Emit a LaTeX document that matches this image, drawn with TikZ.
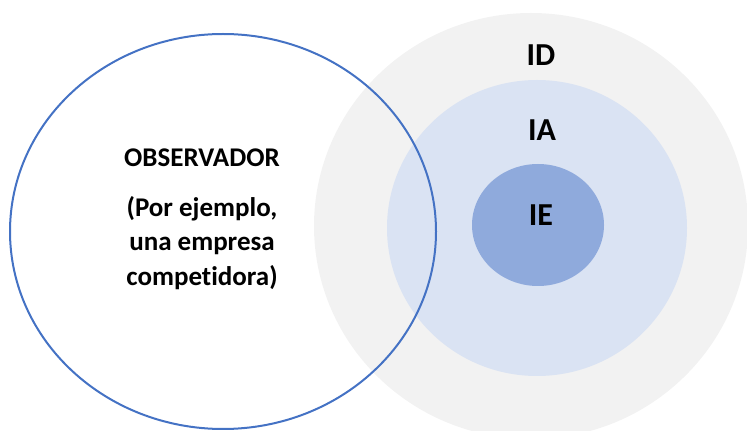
\documentclass[tikz,border=0pt]{standalone}
\usepackage{fontspec}
\setmainfont{Carlito}[Ligatures={NoCommon,NoRare,NoContextual}]
\definecolor{grayfill}{HTML}{F2F2F2}
\definecolor{iafill}{HTML}{DAE3F3}
\definecolor{iefill}{HTML}{8FAADC}
\definecolor{obsline}{HTML}{4472C4}
\begin{document}
\begin{tikzpicture}[x=1pt,y=1pt,
  obstext/.style={font=\bfseries\fontsize{27}{33}\selectfont, align=center, anchor=base},
  bigtext/.style={font=\bfseries\fontsize{32}{38}\selectfont, anchor=base}]
\useasboundingbox (0,0) rectangle (747,431);
\clip (0,0) rectangle (747,431);
\fill[grayfill] (531,205) ellipse [x radius=217, y radius=213];
\fill[iafill] (537,203) ellipse [x radius=150, y radius=148];
\fill[iefill] (538,206) ellipse [x radius=66, y radius=61];
\draw[obsline, line width=2pt] (223,199.5) ellipse [x radius=213, y radius=197.5];
\node[obstext] (obs) at (202,264) {OBSERVADOR};
\node[obstext] (ej1) at (202,214) {(Por ejemplo,};
\node[obstext] (ej2) at (202,180) {una empresa};
\node[obstext] (ej3) at (202,145) {competidora)};
\node[bigtext] (id) at (541,365) {ID};
\node[bigtext] (ia) at (542,290) {IA};
\node[bigtext] (ie) at (541,205) {IE};
\end{tikzpicture}
\end{document}
